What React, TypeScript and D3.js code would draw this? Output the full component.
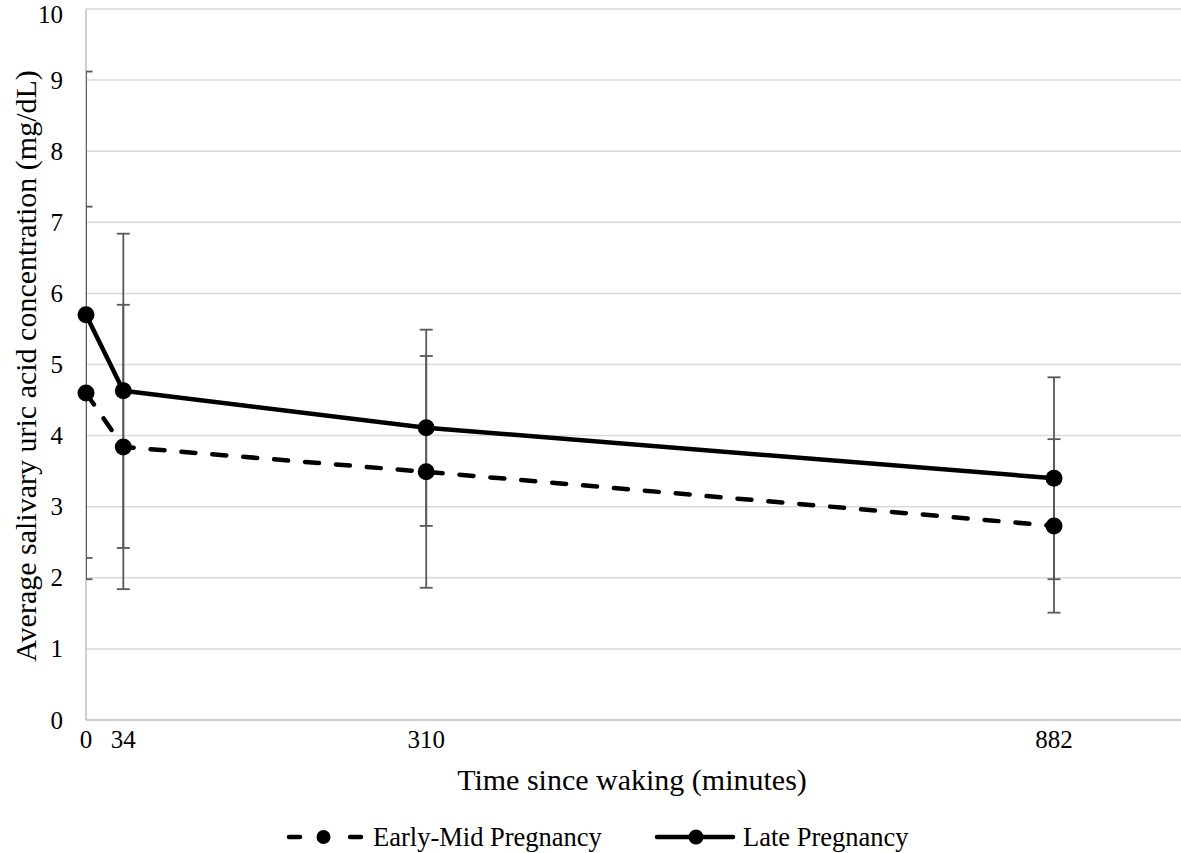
import React from "react";
import * as d3 from "d3";

const times = [0, 34, 310, 882];
const xTicks = [0, 34, 310, 882];
const yTicks = [0, 1, 2, 3, 4, 5, 6, 7, 8, 9, 10];
const earlyMean = [4.6, 3.84, 3.49, 2.73];
const earlyErr = [2.62, 2.0, 1.63, 1.22];
const lateMean = [5.7, 4.63, 4.11, 3.4];
const lateErr = [3.42, 2.21, 1.38, 1.42];
const seriesNames = ["Early-Mid Pregnancy", "Late Pregnancy"];

const W = 1181;
const H = 853;
const txt: React.CSSProperties = { fontFamily: "'Liberation Serif', 'Times New Roman', serif" };

export default function App() {
  const x = d3.scaleLinear().domain([0, 1000]).range([86, 1183.5]);
  const y = d3.scaleLinear().domain([0, 10]).range([720, 9]);
  const line = d3
    .line<number>()
    .x((_, i) => x(times[i]))
    .y((d) => y(d));

  const series = [
    { name: seriesNames[0], mean: earlyMean, err: earlyErr, dash: "14 17" },
    { name: seriesNames[1], mean: lateMean, err: lateErr, dash: undefined },
  ];
  const cap = 6.5;
  const errColor = "#595959";
  const ly = 837;
  const lb = 846;

  return (
    <svg
      width={W}
      height={H}
      style={{ position: "absolute", left: 0, top: 0, background: "#fff" }}
    >
      <defs>
        <clipPath id="plotClip">
          <rect x={86} y={0} width={W - 86} height={H} />
        </clipPath>
      </defs>
      <rect width={W} height={H} fill="#fff" />
      {/* gridlines */}
      {yTicks.map((t) => (
        <line
          key={t}
          x1={86}
          x2={W}
          y1={y(t)}
          y2={y(t)}
          stroke={t === 0 ? "#bfbfbf" : "#d9d9d9"}
          strokeWidth={1.5}
        />
      ))}
      <line x1={86} x2={86} y1={y(10)} y2={y(0)} stroke="#bfbfbf" strokeWidth={1.5} />
      {/* y tick labels */}
      {yTicks.map((t) => (
        <text key={t} x={63} y={Math.max(y(t) + 8.5, 23)} textAnchor="end" fontSize={25} fill="#000" style={txt}>
          {t}
        </text>
      ))}
      {/* x tick labels */}
      {xTicks.map((t) => (
        <text key={t} x={x(t)} y={748} textAnchor="middle" fontSize={25} fill="#000" style={txt}>
          {t}
        </text>
      ))}
      {/* axis titles */}
      <text x={632} y={790} textAnchor="middle" fontSize={30} fill="#000" style={txt}>
        Time since waking (minutes)
      </text>
      <text
        transform={`translate(36,366) rotate(-90)`}
        textAnchor="middle"
        fontSize={30}
        fill="#000"
        style={txt}
      >
        Average salivary uric acid concentration (mg/dL)
      </text>
      {/* error bars */}
      <g clipPath="url(#plotClip)" stroke={errColor} strokeWidth={1.8}>
        {series.map((s, si) =>
          s.mean.map((m, i) => {
            const cx = x(times[i]);
            const hi = y(m + s.err[i]);
            const lo = y(m - s.err[i]);
            return (
              <g key={`${si}-${i}`}>
                <line x1={cx} x2={cx} y1={hi} y2={lo} />
                <line x1={cx - cap} x2={cx + cap} y1={hi} y2={hi} />
                <line x1={cx - cap} x2={cx + cap} y1={lo} y2={lo} />
              </g>
            );
          })
        )}
      </g>
      {/* lines */}
      {series.map((s, si) => (
        <path
          key={si}
          d={line(s.mean) || ""}
          fill="none"
          stroke="#000"
          strokeWidth={4.5}
          strokeDasharray={s.dash}
          strokeLinecap="round"
          strokeLinejoin="round"
        />
      ))}
      {/* markers */}
      {series.map((s, si) =>
        s.mean.map((m, i) => (
          <circle key={`${si}-${i}`} cx={x(times[i])} cy={y(m)} r={8.5} fill="#000" />
        ))
      )}
      {/* legend */}
      <g>
        <line x1={289} x2={300} y1={ly} y2={ly} stroke="#000" strokeWidth={4.5} strokeLinecap="round" />
        <circle cx={323.5} cy={ly} r={7} fill="#000" />
        <line x1={350} x2={361} y1={ly} y2={ly} stroke="#000" strokeWidth={4.5} strokeLinecap="round" />
        <text x={373} y={lb} fontSize={26.5} fill="#000" style={txt}>
          {seriesNames[0]}
        </text>
        <line x1={657} x2={733} y1={ly} y2={ly} stroke="#000" strokeWidth={4.5} strokeLinecap="round" />
        <circle cx={696} cy={ly} r={7.5} fill="#000" />
        <text x={743} y={lb} fontSize={26.5} fill="#000" style={txt}>
          {seriesNames[1]}
        </text>
      </g>
    </svg>
  );
}
